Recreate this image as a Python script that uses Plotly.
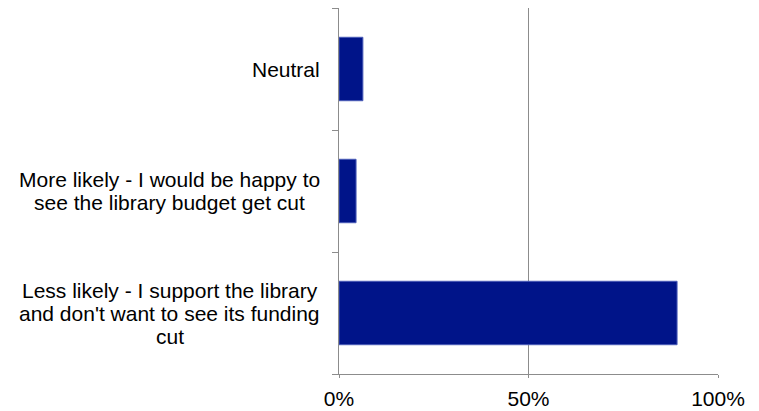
import plotly.graph_objects as go

categories = [
    "Less likely - I support the library<br>and don't want to see its funding<br>cut",
    "More likely - I would be happy to<br>see the library budget get cut",
    "Neutral",
]
values = [89.2, 4.5, 6.3]
x_tickvals = [0, 50, 100]
x_ticktext = ["0%", "50%", "100%"]

FONT = "Liberation Sans, Arial, sans-serif"
FS = 21
LINE_H = 23

# Arial / Liberation Sans advance widths (per 1000 em) to centre wrapped lines
W = {" ": 278, "-": 333, "'": 191, "I": 278, "L": 667, "M": 833, "N": 722,
     "a": 556, "b": 556, "c": 500, "d": 556, "e": 556, "f": 278, "g": 556,
     "h": 556, "i": 222, "j": 222, "k": 500, "l": 222, "m": 833, "n": 556,
     "o": 556, "p": 556, "q": 556, "r": 333, "s": 500, "t": 278, "u": 556,
     "v": 500, "w": 722, "x": 500, "y": 500, "z": 500}


def text_w(s):
    return sum(W.get(ch, 556) for ch in s) * FS / 1000.0


fig = go.Figure()
fig.add_trace(go.Bar(
    y=list(range(len(categories))),
    x=values,
    orientation="h",
    marker=dict(color="#001489", line=dict(color="#4a5cb8", width=1)),
    width=0.52,
    hoverinfo="skip",
))

GAP = 19
for i, c in enumerate(categories):
    lines = c.split("<br>")
    maxw = max(text_w(l) for l in lines)
    n = len(lines)
    for j, ln in enumerate(lines):
        fig.add_annotation(
            x=0, xref="paper", xanchor="center", xshift=-(GAP + maxw / 2),
            y=i, yref="y", yanchor="middle",
            yshift=-(j - (n - 1) / 2) * LINE_H,
            text=ln, showarrow=False, align="center",
            font=dict(family=FONT, size=FS, color="#000000"),
        )

fig.update_layout(
    width=759, height=411,
    margin=dict(l=339, r=41, t=8, b=37, autoexpand=False),
    paper_bgcolor="white", plot_bgcolor="white",
    showlegend=False,
    font=dict(family=FONT, size=FS, color="#000000"),
    xaxis=dict(
        range=[0, 100], tickvals=x_tickvals, ticktext=x_ticktext,
        showgrid=True, gridcolor="#8c8c8c", gridwidth=1,
        showline=True, linecolor="#8c8c8c", linewidth=1,
        ticks="outside", ticklen=3, tickcolor="#8c8c8c",
        ticklabelstandoff=3,
        zeroline=False, fixedrange=True, automargin=False,
        tickfont=dict(family=FONT, size=FS, color="#000000"),
    ),
    yaxis=dict(
        range=[-0.5, 2.5], tickvals=[-0.5, 0.5, 1.5, 2.5], ticktext=["", "", "", ""],
        showgrid=False, showline=True, linecolor="#8c8c8c", linewidth=1,
        ticks="outside", ticklen=6, tickcolor="#8c8c8c",
        zeroline=False, fixedrange=True, automargin=False,
    ),
)

fig.write_html(
    "out.html",
    config={"displayModeBar": False, "staticPlot": True},
    post_script="document.body.style.margin='0';",
)
